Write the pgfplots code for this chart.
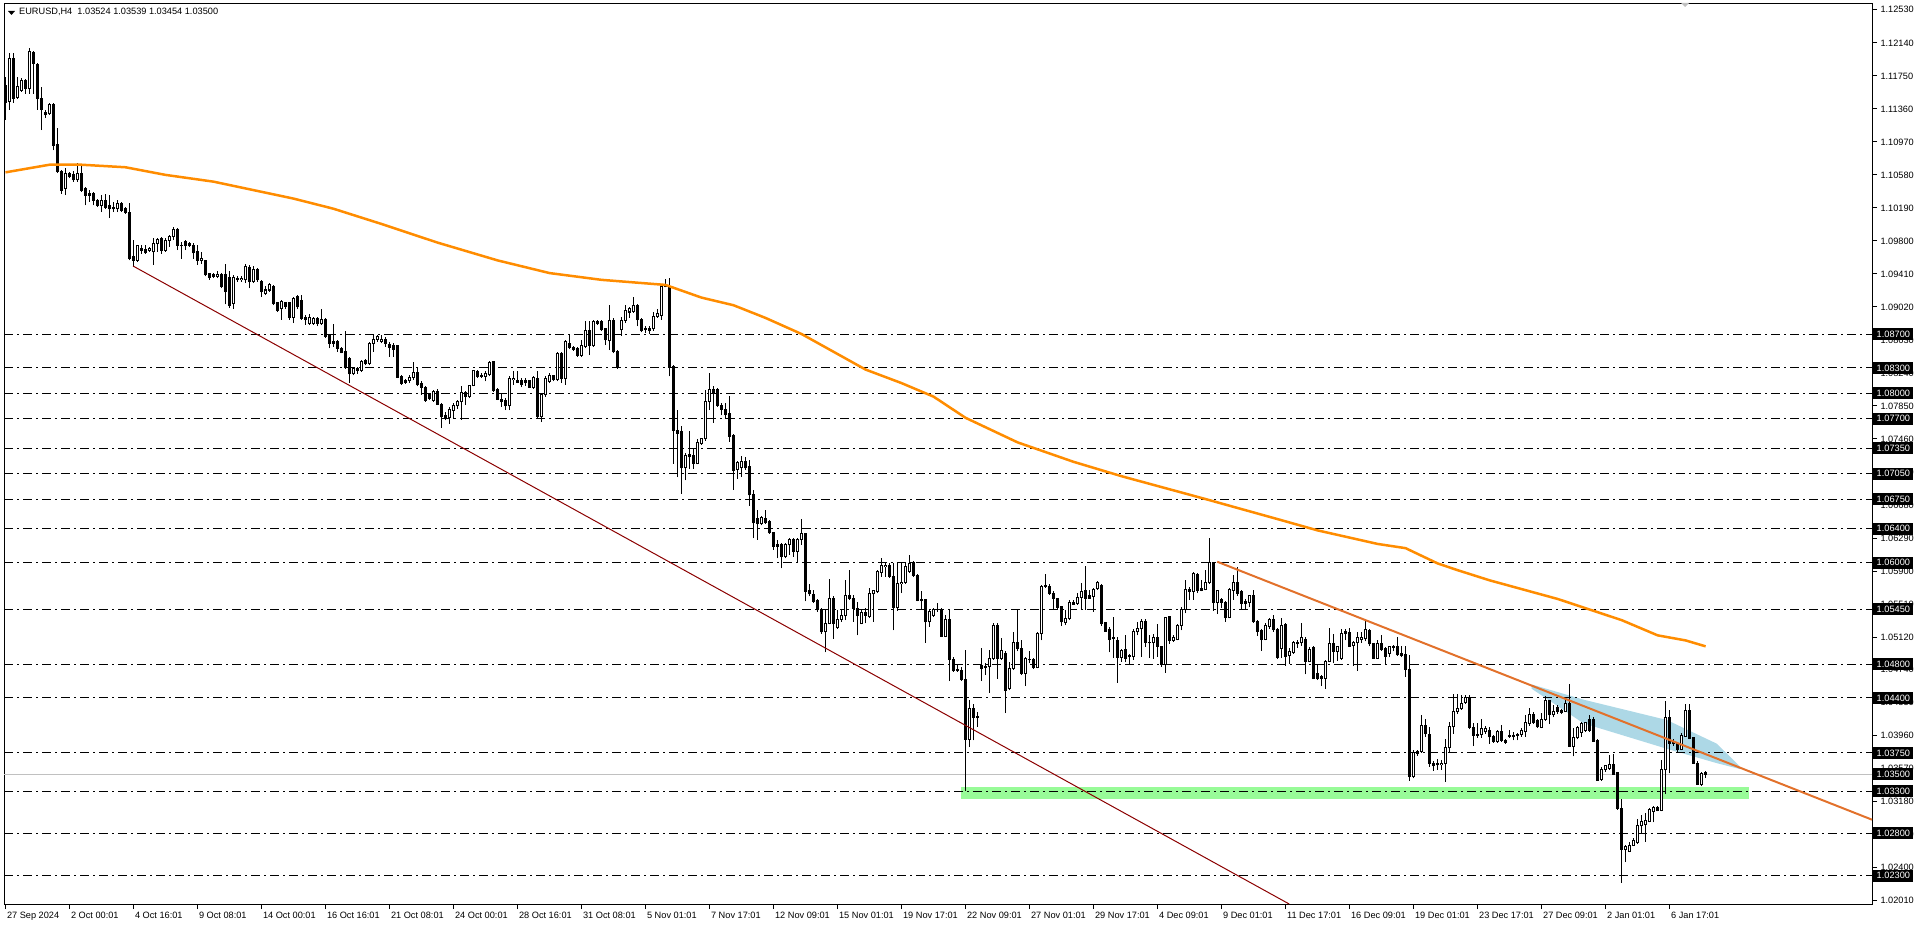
\documentclass[border=0pt]{standalone}
\usepackage{fontspec}
\setmainfont{Liberation Sans}
\usepackage{pgfplots}
\usepackage{pgfplotstable}
\pgfplotsset{compat=1.18}
\definecolor{maorange}{HTML}{FF8C00}
\definecolor{trendor}{HTML}{E2712B}
\definecolor{dred}{HTML}{8B0000}
\definecolor{lblue}{HTML}{ADD8E6}
\definecolor{pgreen}{HTML}{98FB98}
\definecolor{pgray}{HTML}{C0C0C0}
\newcommand\tickfont{\fontsize{9.2}{11}\selectfont}
\pgfplotstableread{
x o h l c
0 1.1164 1.1174 1.1123 1.1143
1 1.1145 1.1202 1.1135 1.1196
2 1.1196 1.1202 1.1143 1.1148
3 1.1150 1.1174 1.1148 1.1162
4 1.1158 1.1172 1.1156 1.1170
5 1.1170 1.1171 1.1154 1.1160
6 1.1160 1.1208 1.1154 1.1204
7 1.1202 1.1204 1.1154 1.1190
8 1.1188 1.1190 1.1135 1.1148
9 1.1148 1.1162 1.1111 1.1135
10 1.1132 1.1135 1.1125 1.1129
11 1.1130 1.1143 1.1129 1.1141
12 1.1141 1.1143 1.1087 1.1093
13 1.1094 1.1113 1.1060 1.1062
14 1.1062 1.1064 1.1036 1.1040
15 1.1042 1.1066 1.1034 1.1060
16 1.1060 1.1062 1.1054 1.1056
17 1.1058 1.1062 1.1050 1.1052
18 1.1052 1.1072 1.1050 1.1060
19 1.1060 1.1068 1.1038 1.1040
20 1.1042 1.1044 1.1022 1.1034
21 1.1036 1.1040 1.1026 1.1034
22 1.1036 1.1038 1.1022 1.1028
23 1.1028 1.1030 1.1020 1.1022
24 1.1022 1.1034 1.1014 1.1028
25 1.1028 1.1036 1.1018 1.1020
26 1.1022 1.1034 1.1007 1.1018
27 1.1020 1.1026 1.1014 1.1018
28 1.1018 1.1028 1.1014 1.1024
29 1.1024 1.1026 1.1014 1.1016
30 1.1018 1.1020 1.1012 1.1014
31 1.1014 1.1025 1.0957 1.0959
32 1.0962 1.0981 1.0949 1.0957
33 1.0957 1.0975 1.0955 1.0974
34 1.0971 1.0975 1.0965 1.0969
35 1.0970 1.0975 1.0965 1.0966
36 1.0969 1.0973 1.0967 1.0971
37 1.0967 1.0983 1.0952 1.0977
38 1.0977 1.0983 1.0967 1.0982
39 1.0983 1.0985 1.0965 1.0969
40 1.0969 1.0983 1.0967 1.0981
41 1.0981 1.0987 1.0973 1.0985
42 1.0985 1.0997 1.0981 1.0993
43 1.0993 1.0995 1.0969 1.0975
44 1.0975 1.0979 1.0959 1.0974
45 1.0979 1.0981 1.0969 1.0974
46 1.0977 1.0979 1.0973 1.0975
47 1.0975 1.0977 1.0959 1.0966
48 1.0967 1.0975 1.0952 1.0957
49 1.0957 1.0967 1.0953 1.0959
50 1.0957 1.0958 1.0938 1.0940
51 1.0941 1.0942 1.0934 1.0937
52 1.0940 1.0942 1.0936 1.0938
53 1.0938 1.0944 1.0936 1.0940
54 1.0940 1.0942 1.0924 1.0926
55 1.0940 1.0953 1.0905 1.0920
56 1.0937 1.0945 1.0901 1.0904
57 1.0906 1.0940 1.0900 1.0937
58 1.0936 1.0938 1.0932 1.0934
59 1.0934 1.0938 1.0932 1.0936
60 1.0934 1.0953 1.0930 1.0950
61 1.0949 1.0952 1.0924 1.0932
62 1.0932 1.0950 1.0930 1.0946
63 1.0946 1.0948 1.0932 1.0934
64 1.0932 1.0934 1.0914 1.0920
65 1.0918 1.0927 1.0916 1.0922
66 1.0922 1.0930 1.0920 1.0928
67 1.0926 1.0928 1.0904 1.0906
68 1.0907 1.0908 1.0896 1.0898
69 1.0900 1.0910 1.0887 1.0908
70 1.0907 1.0908 1.0900 1.0903
71 1.0907 1.0908 1.0887 1.0890
72 1.0890 1.0914 1.0883 1.0912
73 1.0914 1.0916 1.0900 1.0902
74 1.0909 1.0916 1.0887 1.0888
75 1.0890 1.0892 1.0881 1.0887
76 1.0883 1.0894 1.0881 1.0889
77 1.0883 1.0890 1.0881 1.0888
78 1.0888 1.0890 1.0879 1.0883
79 1.0882 1.0900 1.0881 1.0887
80 1.0887 1.0889 1.0865 1.0867
81 1.0868 1.0869 1.0853 1.0859
82 1.0861 1.0882 1.0855 1.0859
83 1.0861 1.0863 1.0849 1.0853
84 1.0853 1.0855 1.0847 1.0848
85 1.0849 1.0873 1.0829 1.0831
86 1.0841 1.0843 1.0812 1.0823
87 1.0823 1.0831 1.0821 1.0829
88 1.0829 1.0831 1.0823 1.0827
89 1.0827 1.0839 1.0825 1.0838
90 1.0839 1.0841 1.0833 1.0835
91 1.0835 1.0861 1.0833 1.0859
92 1.0859 1.0869 1.0849 1.0864
93 1.0864 1.0869 1.0861 1.0867
94 1.0861 1.0869 1.0859 1.0864
95 1.0864 1.0867 1.0855 1.0859
96 1.0858 1.0861 1.0843 1.0854
97 1.0856 1.0859 1.0843 1.0852
98 1.0856 1.0857 1.0818 1.0819
99 1.0820 1.0822 1.0810 1.0812
100 1.0815 1.0817 1.0811 1.0813
101 1.0815 1.0822 1.0812 1.0819
102 1.0819 1.0837 1.0816 1.0824
103 1.0824 1.0830 1.0808 1.0810
104 1.0811 1.0814 1.0798 1.0807
105 1.0807 1.0808 1.0790 1.0792
106 1.0798 1.0800 1.0792 1.0794
107 1.0792 1.0804 1.0790 1.0802
108 1.0802 1.0805 1.0786 1.0787
109 1.0787 1.0788 1.0759 1.0772
110 1.0774 1.0778 1.0768 1.0771
111 1.0771 1.0784 1.0764 1.0781
112 1.0780 1.0788 1.0770 1.0786
113 1.0785 1.0792 1.0782 1.0790
114 1.0790 1.0808 1.0769 1.0801
115 1.0801 1.0803 1.0786 1.0796
116 1.0796 1.0810 1.0794 1.0809
117 1.0809 1.0828 1.0808 1.0827
118 1.0826 1.0828 1.0818 1.0820
119 1.0821 1.0824 1.0818 1.0820
120 1.0820 1.0826 1.0814 1.0823
121 1.0822 1.0838 1.0820 1.0836
122 1.0837 1.0838 1.0802 1.0803
123 1.0805 1.0806 1.0792 1.0793
124 1.0793 1.0800 1.0784 1.0790
125 1.0791 1.0794 1.0780 1.0785
126 1.0785 1.0820 1.0780 1.0818
127 1.0816 1.0826 1.0810 1.0818
128 1.0815 1.0826 1.0812 1.0813
129 1.0815 1.0818 1.0807 1.0810
130 1.0815 1.0818 1.0809 1.0813
131 1.0815 1.0816 1.0806 1.0807
132 1.0807 1.0820 1.0805 1.0819
133 1.0818 1.0826 1.0771 1.0772
134 1.0772 1.0800 1.0766 1.0798
135 1.0798 1.0820 1.0796 1.0818
136 1.0814 1.0824 1.0812 1.0821
137 1.0821 1.0822 1.0814 1.0816
138 1.0816 1.0849 1.0814 1.0847
139 1.0847 1.0849 1.0812 1.0817
140 1.0817 1.0863 1.0810 1.0861
141 1.0859 1.0870 1.0852 1.0854
142 1.0854 1.0856 1.0850 1.0852
143 1.0853 1.0855 1.0843 1.0845
144 1.0845 1.0863 1.0843 1.0857
145 1.0855 1.0885 1.0853 1.0874
146 1.0874 1.0885 1.0845 1.0857
147 1.0856 1.0887 1.0855 1.0885
148 1.0885 1.0887 1.0881 1.0883
149 1.0885 1.0887 1.0873 1.0875
150 1.0876 1.0877 1.0857 1.0863
151 1.0862 1.0904 1.0851 1.0886
152 1.0886 1.0889 1.0847 1.0849
153 1.0849 1.0851 1.0829 1.0831
154 1.0875 1.0890 1.0868 1.0886
155 1.0886 1.0904 1.0883 1.0898
156 1.0896 1.0902 1.0889 1.0900
157 1.0897 1.0914 1.0895 1.0904
158 1.0904 1.0906 1.0879 1.0887
159 1.0887 1.0889 1.0872 1.0874
160 1.0877 1.0879 1.0871 1.0875
161 1.0876 1.0879 1.0870 1.0874
162 1.0876 1.0896 1.0874 1.0891
163 1.0891 1.0900 1.0889 1.0894
164 1.0892 1.0929 1.0887 1.0926
165 1.0926 1.0935 1.0925 1.0928
166 1.0926 1.0936 1.0820 1.0831
167 1.0832 1.0833 1.0717 1.0756
168 1.0756 1.0780 1.0701 1.0753
169 1.0755 1.0761 1.0681 1.0712
170 1.0712 1.0729 1.0697 1.0727
171 1.0728 1.0756 1.0711 1.0725
172 1.0727 1.0735 1.0711 1.0717
173 1.0717 1.0746 1.0716 1.0742
174 1.0741 1.0747 1.0739 1.0746
175 1.0746 1.0804 1.0744 1.0790
176 1.0790 1.0824 1.0780 1.0805
177 1.0805 1.0808 1.0765 1.0801
178 1.0805 1.0806 1.0784 1.0786
179 1.0786 1.0788 1.0774 1.0781
180 1.0781 1.0788 1.0770 1.0775
181 1.0776 1.0797 1.0743 1.0749
182 1.0750 1.0752 1.0686 1.0709
183 1.0710 1.0720 1.0699 1.0718
184 1.0712 1.0726 1.0701 1.0719
185 1.0719 1.0725 1.0709 1.0712
186 1.0713 1.0721 1.0667 1.0680
187 1.0680 1.0686 1.0629 1.0647
188 1.0652 1.0662 1.0627 1.0646
189 1.0646 1.0655 1.0644 1.0653
190 1.0652 1.0662 1.0646 1.0647
191 1.0648 1.0650 1.0634 1.0635
192 1.0635 1.0636 1.0615 1.0619
193 1.0621 1.0627 1.0605 1.0619
194 1.0621 1.0623 1.0593 1.0607
195 1.0607 1.0623 1.0605 1.0621
196 1.0621 1.0629 1.0609 1.0627
197 1.0627 1.0629 1.0607 1.0613
198 1.0613 1.0629 1.0600 1.0627
199 1.0627 1.0652 1.0621 1.0634
200 1.0634 1.0635 1.0554 1.0566
201 1.0567 1.0575 1.0560 1.0563
202 1.0562 1.0568 1.0552 1.0554
203 1.0555 1.0557 1.0542 1.0544
204 1.0545 1.0546 1.0516 1.0518
205 1.0518 1.0544 1.0494 1.0528
206 1.0528 1.0580 1.0527 1.0558
207 1.0558 1.0560 1.0510 1.0528
208 1.0523 1.0544 1.0522 1.0533
209 1.0533 1.0544 1.0530 1.0537
210 1.0537 1.0579 1.0532 1.0561
211 1.0561 1.0591 1.0556 1.0558
212 1.0558 1.0562 1.0530 1.0546
213 1.0546 1.0553 1.0514 1.0537
214 1.0528 1.0544 1.0527 1.0541
215 1.0541 1.0546 1.0528 1.0538
216 1.0536 1.0570 1.0534 1.0563
217 1.0563 1.0568 1.0530 1.0567
218 1.0566 1.0591 1.0564 1.0589
219 1.0588 1.0605 1.0583 1.0597
220 1.0595 1.0599 1.0583 1.0597
221 1.0596 1.0599 1.0582 1.0584
222 1.0584 1.0599 1.0520 1.0547
223 1.0547 1.0599 1.0543 1.0575
224 1.0575 1.0599 1.0564 1.0577
225 1.0577 1.0599 1.0575 1.0595
226 1.0590 1.0609 1.0588 1.0599
227 1.0600 1.0602 1.0583 1.0585
228 1.0585 1.0587 1.0554 1.0555
229 1.0556 1.0566 1.0544 1.0555
230 1.0556 1.0557 1.0505 1.0530
231 1.0530 1.0544 1.0524 1.0542
232 1.0538 1.0546 1.0536 1.0545
233 1.0545 1.0552 1.0542 1.0544
234 1.0544 1.0546 1.0512 1.0513
235 1.0513 1.0538 1.0512 1.0533
236 1.0533 1.0544 1.0460 1.0486
237 1.0486 1.0488 1.0471 1.0472
238 1.0474 1.0479 1.0471 1.0472
239 1.0473 1.0477 1.0460 1.0462
240 1.0462 1.0497 1.0330 1.0391
241 1.0391 1.0438 1.0382 1.0428
242 1.0428 1.0433 1.0390 1.0417
243 1.0418 1.0424 1.0406 1.0417
244 1.0478 1.0499 1.0460 1.0475
245 1.0477 1.0481 1.0467 1.0476
246 1.0477 1.0497 1.0446 1.0487
247 1.0487 1.0529 1.0485 1.0526
248 1.0526 1.0528 1.0463 1.0487
249 1.0487 1.0511 1.0485 1.0496
250 1.0492 1.0496 1.0422 1.0449
251 1.0451 1.0483 1.0449 1.0475
252 1.0475 1.0518 1.0473 1.0505
253 1.0505 1.0544 1.0495 1.0499
254 1.0499 1.0508 1.0467 1.0469
255 1.0469 1.0489 1.0454 1.0487
256 1.0486 1.0495 1.0481 1.0485
257 1.0486 1.0487 1.0474 1.0476
258 1.0476 1.0518 1.0475 1.0516
259 1.0516 1.0573 1.0508 1.0572
260 1.0572 1.0587 1.0570 1.0573
261 1.0572 1.0575 1.0562 1.0564
262 1.0564 1.0566 1.0544 1.0558
263 1.0557 1.0558 1.0544 1.0547
264 1.0548 1.0549 1.0525 1.0530
265 1.0529 1.0544 1.0526 1.0534
266 1.0534 1.0556 1.0532 1.0553
267 1.0553 1.0556 1.0550 1.0551
268 1.0552 1.0564 1.0550 1.0559
269 1.0559 1.0576 1.0544 1.0566
270 1.0567 1.0596 1.0544 1.0558
271 1.0561 1.0567 1.0557 1.0558
272 1.0560 1.0570 1.0542 1.0568
273 1.0569 1.0578 1.0568 1.0577
274 1.0573 1.0575 1.0525 1.0528
275 1.0529 1.0530 1.0518 1.0519
276 1.0521 1.0524 1.0494 1.0509
277 1.0512 1.0536 1.0487 1.0510
278 1.0508 1.0512 1.0458 1.0488
279 1.0488 1.0498 1.0483 1.0496
280 1.0497 1.0514 1.0482 1.0487
281 1.0490 1.0492 1.0479 1.0489
282 1.0489 1.0522 1.0485 1.0518
283 1.0518 1.0530 1.0514 1.0522
284 1.0522 1.0533 1.0489 1.0530
285 1.0530 1.0533 1.0500 1.0506
286 1.0505 1.0514 1.0487 1.0505
287 1.0505 1.0516 1.0486 1.0512
288 1.0512 1.0527 1.0489 1.0501
289 1.0501 1.0502 1.0477 1.0480
290 1.0480 1.0536 1.0470 1.0535
291 1.0536 1.0537 1.0504 1.0508
292 1.0508 1.0514 1.0506 1.0512
293 1.0509 1.0527 1.0508 1.0526
294 1.0526 1.0547 1.0520 1.0545
295 1.0545 1.0579 1.0540 1.0568
296 1.0568 1.0571 1.0556 1.0566
297 1.0566 1.0589 1.0556 1.0587
298 1.0586 1.0588 1.0564 1.0567
299 1.0569 1.0579 1.0566 1.0567
300 1.0568 1.0591 1.0567 1.0576
301 1.0576 1.0629 1.0575 1.0600
302 1.0600 1.0601 1.0543 1.0553
303 1.0553 1.0568 1.0539 1.0567
304 1.0556 1.0558 1.0546 1.0553
305 1.0553 1.0554 1.0530 1.0535
306 1.0535 1.0570 1.0534 1.0568
307 1.0567 1.0585 1.0556 1.0577
308 1.0577 1.0595 1.0561 1.0564
309 1.0566 1.0568 1.0544 1.0552
310 1.0554 1.0557 1.0544 1.0552
311 1.0553 1.0562 1.0547 1.0561
312 1.0561 1.0567 1.0529 1.0530
313 1.0530 1.0532 1.0513 1.0519
314 1.0520 1.0522 1.0496 1.0509
315 1.0509 1.0528 1.0508 1.0526
316 1.0525 1.0535 1.0522 1.0533
317 1.0533 1.0538 1.0518 1.0521
318 1.0521 1.0523 1.0486 1.0488
319 1.0499 1.0535 1.0487 1.0526
320 1.0527 1.0529 1.0478 1.0489
321 1.0490 1.0499 1.0480 1.0495
322 1.0494 1.0507 1.0492 1.0506
323 1.0505 1.0508 1.0499 1.0504
324 1.0505 1.0529 1.0502 1.0511
325 1.0509 1.0512 1.0468 1.0483
326 1.0483 1.0500 1.0482 1.0497
327 1.0500 1.0501 1.0462 1.0463
328 1.0469 1.0479 1.0461 1.0463
329 1.0465 1.0467 1.0454 1.0463
330 1.0463 1.0485 1.0451 1.0483
331 1.0483 1.0523 1.0482 1.0504
332 1.0504 1.0516 1.0481 1.0495
333 1.0495 1.0502 1.0484 1.0501
334 1.0487 1.0522 1.0485 1.0516
335 1.0518 1.0522 1.0508 1.0516
336 1.0517 1.0523 1.0500 1.0501
337 1.0502 1.0507 1.0478 1.0505
338 1.0505 1.0518 1.0472 1.0511
339 1.0509 1.0518 1.0505 1.0511
340 1.0510 1.0532 1.0507 1.0521
341 1.0520 1.0522 1.0501 1.0504
342 1.0504 1.0505 1.0486 1.0487
343 1.0487 1.0508 1.0486 1.0504
344 1.0504 1.0514 1.0496 1.0497
345 1.0498 1.0500 1.0479 1.0489
346 1.0493 1.0502 1.0488 1.0501
347 1.0501 1.0503 1.0495 1.0500
348 1.0501 1.0512 1.0490 1.0491
349 1.0492 1.0501 1.0488 1.0490
350 1.0491 1.0501 1.0465 1.0474
351 1.0474 1.0491 1.0342 1.0347
352 1.0347 1.0378 1.0345 1.0376
353 1.0377 1.0378 1.0372 1.0375
354 1.0377 1.0420 1.0375 1.0408
355 1.0408 1.0415 1.0394 1.0398
356 1.0397 1.0406 1.0359 1.0363
357 1.0363 1.0365 1.0354 1.0360
358 1.0362 1.0368 1.0355 1.0361
359 1.0361 1.0367 1.0355 1.0363
360 1.0363 1.0392 1.0341 1.0381
361 1.0381 1.0412 1.0376 1.0406
362 1.0406 1.0445 1.0398 1.0424
363 1.0424 1.0445 1.0421 1.0427
364 1.0427 1.0444 1.0426 1.0434
365 1.0435 1.0444 1.0433 1.0440
366 1.0440 1.0444 1.0403 1.0405
367 1.0405 1.0411 1.0383 1.0396
368 1.0397 1.0411 1.0393 1.0396
369 1.0397 1.0415 1.0393 1.0404
370 1.0400 1.0407 1.0398 1.0404
371 1.0402 1.0406 1.0386 1.0394
372 1.0395 1.0396 1.0387 1.0389
373 1.0389 1.0402 1.0387 1.0400
374 1.0400 1.0408 1.0388 1.0390
375 1.0390 1.0392 1.0386 1.0388
376 1.0395 1.0402 1.0393 1.0396
377 1.0396 1.0400 1.0390 1.0395
378 1.0396 1.0399 1.0390 1.0397
379 1.0397 1.0405 1.0394 1.0402
380 1.0400 1.0420 1.0394 1.0411
381 1.0410 1.0428 1.0407 1.0421
382 1.0421 1.0424 1.0409 1.0411
383 1.0413 1.0415 1.0405 1.0406
384 1.0405 1.0422 1.0404 1.0415
385 1.0415 1.0442 1.0413 1.0437
386 1.0437 1.0438 1.0409 1.0420
387 1.0420 1.0432 1.0417 1.0424
388 1.0429 1.0432 1.0421 1.0424
389 1.0425 1.0427 1.0421 1.0423
390 1.0424 1.0438 1.0423 1.0433
391 1.0433 1.0457 1.0382 1.0383
392 1.0383 1.0404 1.0371 1.0393
393 1.0393 1.0407 1.0391 1.0405
394 1.0399 1.0412 1.0394 1.0410
395 1.0402 1.0412 1.0400 1.0411
396 1.0414 1.0420 1.0400 1.0402
397 1.0414 1.0417 1.0388 1.0389
398 1.0390 1.0392 1.0342 1.0343
399 1.0344 1.0358 1.0342 1.0356
400 1.0356 1.0361 1.0353 1.0360
401 1.0357 1.0373 1.0355 1.0361
402 1.0361 1.0374 1.0349 1.0350
403 1.0352 1.0353 1.0308 1.0310
404 1.0310 1.0321 1.0222 1.0261
405 1.0261 1.0266 1.0246 1.0265
406 1.0259 1.0270 1.0258 1.0266
407 1.0266 1.0274 1.0265 1.0272
408 1.0269 1.0297 1.0268 1.0289
409 1.0289 1.0302 1.0280 1.0294
410 1.0290 1.0304 1.0270 1.0295
411 1.0294 1.0310 1.0293 1.0308
412 1.0306 1.0312 1.0293 1.0311
413 1.0311 1.0312 1.0306 1.0307
414 1.0307 1.0367 1.0306 1.0355
415 1.0355 1.0436 1.0327 1.0417
416 1.0417 1.0426 1.0351 1.0386
417 1.0388 1.0392 1.0383 1.0386
418 1.0386 1.0387 1.0375 1.0379
419 1.0379 1.0399 1.0378 1.0396
420 1.0395 1.0433 1.0394 1.0425
421 1.0425 1.0433 1.0391 1.0392
422 1.0393 1.0394 1.0363 1.0363
423 1.0363 1.0366 1.0337 1.0338
424 1.0338 1.0353 1.0336 1.0351
425 1.03524 1.03539 1.03454 1.03500
}\candles
\begin{document}
\begin{tikzpicture}
\begin{axis}[
  set layers,
  at={(4pt,23pt)}, anchor=south west,
  width=1868pt, height=900pt, scale only axis,
  xmin=-0.375, xmax=466.6, ymin=1.01966, ymax=1.12599,
  clip=false,
  axis line style={black, line width=1pt},
  tick style={black, line width=1pt},
  tick align=outside, major tick length=5pt,
  xtick pos=bottom, ytick pos=right, yticklabel pos=right,
  xtick={0,16,...,416},
  xticklabels={27 Sep 2024,2 Oct 00:01,4 Oct 16:01,9 Oct 08:01,14 Oct 00:01,16 Oct 16:01,21 Oct 08:01,24 Oct 00:01,28 Oct 16:01,31 Oct 08:01,5 Nov 01:01,7 Nov 17:01,12 Nov 09:01,15 Nov 01:01,19 Nov 17:01,22 Nov 09:01,27 Nov 01:01,29 Nov 17:01,4 Dec 09:01,9 Dec 01:01,11 Dec 17:01,16 Dec 09:01,19 Dec 01:01,23 Dec 17:01,27 Dec 09:01,2 Jan 01:01,6 Jan 17:01},
  ytick={1.1253,1.1214,1.1175,1.1136,1.1097,1.1058,1.1019,1.0980,1.0941,1.0902,1.0863,1.0824,1.0785,1.0746,1.0707,1.0668,1.0629,1.0590,1.0551,1.0512,1.04735,1.04345,1.0396,1.0357,1.0318,1.0279,1.0240,1.0201},
  yticklabels={1.12530,1.12140,1.11750,1.11360,1.10970,1.10580,1.10190,1.09800,1.09410,1.09020,1.08630,1.08240,1.07850,1.07460,1.07070,1.06680,1.06290,1.05900,1.05510,1.05120,1.04740,1.04350,1.03960,1.03570,1.03180,1.02790,1.02400,1.02010},
  xticklabel style={anchor=north west, xshift=-2pt, font=\tickfont},
  yticklabel style={anchor=west, font=\tickfont},
]
% support zone
\addplot[fill=pgreen, draw=none, forget plot] coordinates {(238.9,1.03212) (435.9,1.03212) (435.9,1.03351) (238.9,1.03351)} -- cycle;
% channel band
\addplot[fill=lblue, draw=none, forget plot] coordinates {(381.5,1.0456) (394.5,1.0438) (415.3,1.0414) (427.8,1.0386) (433.6,1.0359) (433.6,1.0356) (427.8,1.0363) (415.3,1.0380) (394.5,1.0410) (381.5,1.0451)} -- cycle;
% current price
\addplot[pgray, line width=1pt, forget plot] coordinates {(-0.375,1.035) (466.6,1.035)};
% horizontal levels
\pgfplotsinvokeforeach{1.08700,1.08300,1.08000,1.07700,1.07350,1.07050,1.06750,1.06400,1.06000,1.05450,1.04800,1.04400,1.03750,1.03300,1.02800,1.02300}{
  \addplot[black, line width=1pt, dash pattern=on 9pt off 4pt on 2pt off 4pt, forget plot] coordinates {(-0.375,#1) (466.6,#1)};
}
% candles: wicks
\addplot[draw=none, mark=none, forget plot, error bars/.cd, y dir=plus, y explicit, error mark=none, error bar style={draw=black, solid, line width=1pt}]
  table[x=x, y=l, y error expr=\thisrow{h}-\thisrow{l}] {\candles};
% bodies outline
\addplot[draw=none, mark=none, forget plot, error bars/.cd, y dir=plus, y explicit, error mark=none, error bar style={draw=black, solid, line width=3pt}]
  table[x=x, y expr={min(\thisrow{o},\thisrow{c})-0.00006}, y error expr={abs(\thisrow{c}-\thisrow{o})+0.00012}] {\candles};
% bullish fill
\addplot[draw=none, mark=none, forget plot, restrict expr to domain={\thisrow{c}-\thisrow{o}}{0.00015:1}, error bars/.cd, y dir=plus, y explicit, error mark=none, error bar style={draw=white, solid, line width=1pt}]
  table[x=x, y expr={\thisrow{o}+0.00006}, y error expr={\thisrow{c}-\thisrow{o}-0.00012}] {\candles};
% moving average
\addplot[maorange, line width=2.5pt, forget plot] coordinates {(0,1.1061) (11,1.1070) (19,1.1070) (30,1.1067) (40,1.1058) (52,1.1050) (62,1.1040) (72,1.1030) (82,1.1018) (94,1.1000) (108,1.0978) (123,1.0957) (136,1.0942) (149,1.0934) (165,1.0928) (174,1.0913) (182,1.0904) (190,1.0889) (199,1.0870) (207,1.0849) (215,1.0828) (224,1.0812) (232,1.0796) (240,1.0771) (253,1.0742) (267,1.0719) (279,1.0702) (300,1.0675) (319,1.0650) (328,1.0638) (343,1.0622) (350,1.0617) (358,1.0599) (363,1.0591) (371,1.0579) (388,1.0557) (404,1.0532) (413,1.0514) (420,1.0508) (425,1.0501)};
% trend lines
\addplot[dred, line width=1pt, forget plot] coordinates {(31.9,1.09503) (320.9,1.01966)};
\addplot[trendor, line width=2pt, forget plot] coordinates {(302.9,1.0601) (466.6,1.02962)};
% level labels
\pgfplotsinvokeforeach{1.08700,1.08300,1.08000,1.07700,1.07350,1.07050,1.06750,1.06400,1.06000,1.05450,1.04800,1.04400,1.03750,1.03500,1.03300,1.02800,1.02300}{
  \node[fill=black, text=white, font=\tickfont, anchor=west, inner xsep=3.5pt, inner ysep=0pt, minimum height=12pt, xshift=1pt] at (axis cs:466.6,#1) {#1};
}
\end{axis}
\fill (8pt,916pt) -- (15pt,916pt) -- (11.5pt,912pt) -- cycle;
\node[anchor=west, font=\tickfont, inner sep=0pt] at (19pt,915pt) {EURUSD,H4\ \ 1.03524 1.03539 1.03454 1.03500};
\fill[gray!50] (1681pt,924pt) -- (1689pt,924pt) -- (1685pt,920pt) -- cycle;
\pgfresetboundingbox
\useasboundingbox (0,0) rectangle (1920pt,927pt);
\end{tikzpicture}
\end{document}
